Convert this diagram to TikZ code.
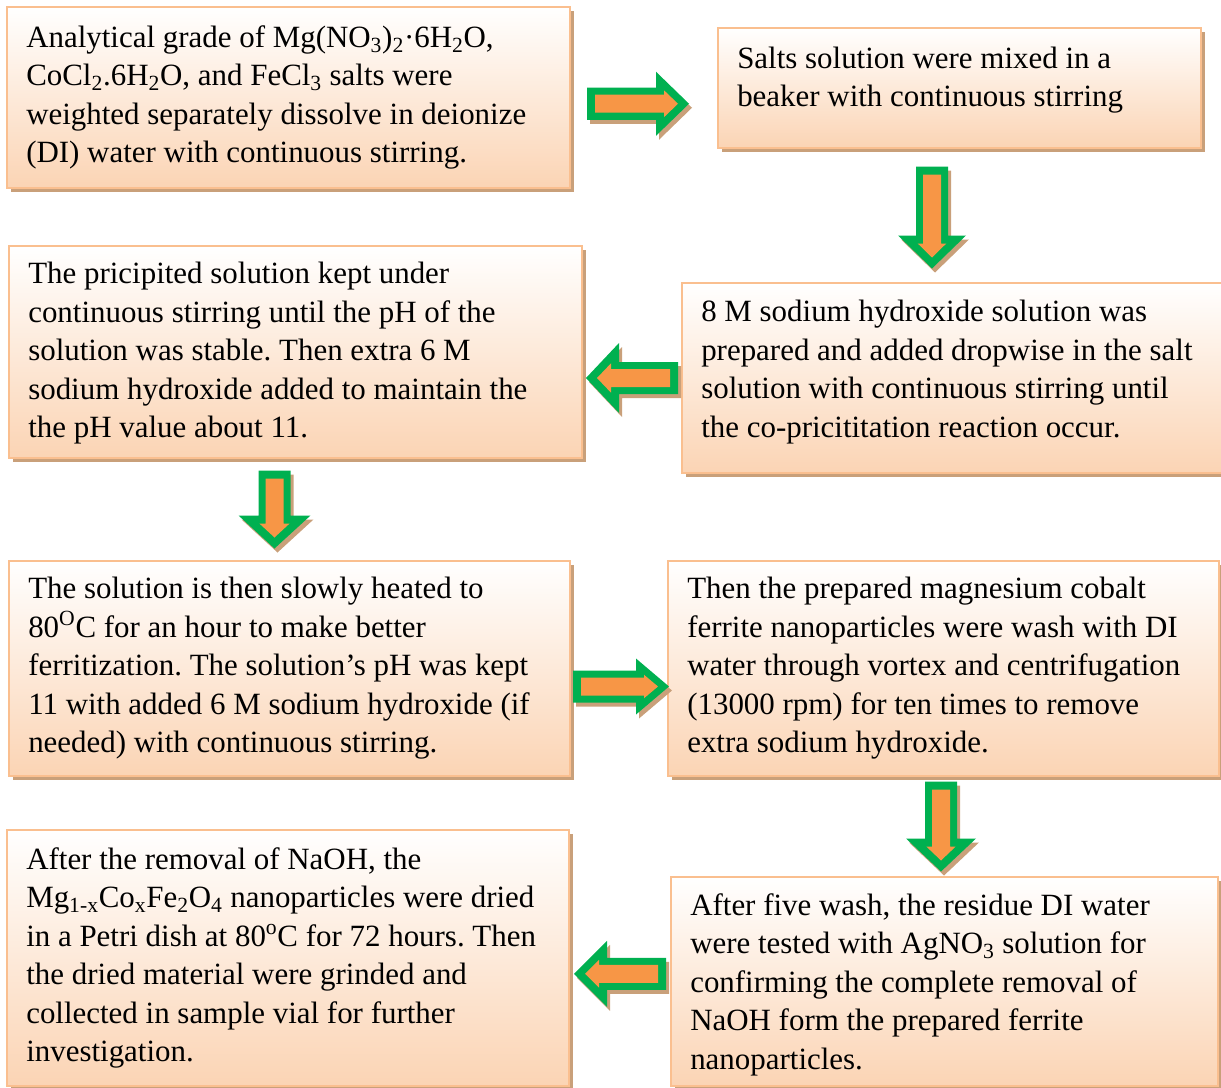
\documentclass[tikz,border=0pt]{standalone}
\usepackage{fontspec}
\setmainfont{Liberation Serif}
\usetikzlibrary{calc,shadows}
\definecolor{boxpeach}{RGB}{251,212,180}
\definecolor{boxline}{RGB}{250,191,143}
\definecolor{boxshadow}{RGB}{201,160,122}
\definecolor{arrowgreen}{RGB}{0,176,80}
\definecolor{arroworange}{RGB}{247,150,70}
\frenchspacing

\begin{document}
\begin{tikzpicture}[x=0.75pt,y=-0.75pt,
  stepbox/.style={draw=boxline,line width=1.5pt,top color=white,bottom color=boxpeach,
    drop shadow={fill=boxshadow,opacity=1,shadow xshift=3pt,shadow yshift=-3pt},
    anchor=north west,inner sep=0pt},
  steptext/.style={anchor=west,align=left,inner sep=0pt,
    font=\fontsize{23.2pt}{28.9pt}\selectfont},
  pics/blockarrow/.style n args={3}{code={
    \fill[boxshadow,shift={(3,4)},rotate=#3] ({-#1},-16) -- ({#1-33},-16) -- ({#1-33},{-#2})
      -- (#1,0) -- ({#1-33},#2) -- ({#1-33},16) -- ({-#1},16) -- cycle;
    \fill[arrowgreen,rotate=#3] ({-#1},-16) -- ({#1-33},-16) -- ({#1-33},{-#2})
      -- (#1,0) -- ({#1-33},#2) -- ({#1-33},16) -- ({-#1},16) -- cycle;
    \fill[arroworange,rotate=#3] ({-#1+8},-9) -- ({#1-25},-9) -- ({#1-25},{-0.42*#2})
      -- ({#1-11},0) -- ({#1-25},{0.42*#2}) -- ({#1-25},9) -- ({-#1+8},9) -- cycle;
  }}]
\useasboundingbox (0,0) rectangle (1221,1088);

\node[stepbox,minimum width=422.25pt,minimum height=135.75pt] (b1) at (6,6) {};
\node[stepbox,minimum width=362.25pt,minimum height=90pt] (b2) at (717,27) {};
\node[stepbox,minimum width=405.75pt,minimum height=142.5pt] (b3) at (681,282) {};
\node[stepbox,minimum width=429.75pt,minimum height=159pt] (b4) at (8,245) {};
\node[stepbox,minimum width=420.75pt,minimum height=161.25pt] (b5) at (8,560) {};
\node[stepbox,minimum width=413.25pt,minimum height=161.25pt] (b6) at (667,560) {};
\node[stepbox,minimum width=421.5pt,minimum height=192pt] (b7) at (6,829) {};
\node[stepbox,minimum width=410.25pt,minimum height=156.75pt] (b8) at (670,876) {};

\node[steptext] (t1) at ([xshift=15pt]b1.west) {Analytical grade of Mg(NO\textsubscript{3})\textsubscript{2}·6H\textsubscript{2}O,\\
  CoCl\textsubscript{2}.6H\textsubscript{2}O, and FeCl\textsubscript{3} salts were\\
  weighted separately dissolve in deionize\\
  (DI) water with continuous stirring.};
\node[steptext] (t2) at ([xshift=15pt,yshift=6pt]b2.west) {Salts solution were mixed in a\\
  beaker with continuous stirring};
\node[steptext] (t3) at ([xshift=15pt,yshift=4.5pt]b3.west) {8 M sodium hydroxide solution was\\
  prepared and added dropwise in the salt\\
  solution with continuous stirring until\\
  the co-pricititation reaction occur.};
\node[steptext] (t4) at ([xshift=15pt,yshift=-1pt]b4.west) {The pricipited solution kept under\\
  continuous stirring until the pH of the\\
  solution was stable. Then extra 6 M\\
  sodium hydroxide added to maintain the\\
  the pH value about 11.};
\node[steptext] (t5) at ([xshift=15pt]b5.west) {The solution is then slowly heated to\\
  80\textsuperscript{O}C for an hour to make better\\
  ferritization. The solution’s pH was kept\\
  11 with added 6 M sodium hydroxide (if\\
  needed) with continuous stirring.};
\node[steptext] (t6) at ([xshift=15pt]b6.west) {Then the prepared magnesium cobalt\\
  ferrite nanoparticles were wash with DI\\
  water through vortex and centrifugation\\
  (13000 rpm) for ten times to remove\\
  extra sodium hydroxide.};
\node[steptext] (t7) at ([xshift=15pt]b7.west) {After the removal of NaOH, the\\
  Mg\textsubscript{1-x}Co\textsubscript{x}Fe\textsubscript{2}O\textsubscript{4} nanoparticles were dried\\
  in a Petri dish at 80\textsuperscript{o}C for 72 hours. Then\\
  the dried material were grinded and\\
  collected in sample vial for further\\
  investigation.};
\node[steptext] (t8) at ([xshift=15pt,yshift=-2.25pt]b8.west) {After five wash, the residue DI water\\
  were tested with AgNO\textsubscript{3} solution for\\
  confirming the complete removal of\\
  NaOH form the prepared ferrite\\
  nanoparticles.};

\pic at ($(b1.east)!.5!(b2.west)+(-6,11)$) {blockarrow={51}{32}{0}};
\pic at ($(b2.south)!.5!(b3.north)+(-24,2)$) {blockarrow={51}{34}{-90}};
\pic at ($(b3.west)!.5!(b4.east)+(0,13)$) {blockarrow={46}{35}{180}};
\pic at ($(b4.south)!.5!(b5.north)+(-18,0)$) {blockarrow={39}{36}{-90}};
\pic at ($(b5.east)!.5!(b6.west)+(2,18)$) {blockarrow={48}{28}{0}};
\pic at ($(b6.south)!.5!(b8.north)+(-3,0)$) {blockarrow={45}{35}{-90}};
\pic at ($(b8.west)!.5!(b7.east)+(0,4)$) {blockarrow={46}{33}{180}};
\end{tikzpicture}
\end{document}
